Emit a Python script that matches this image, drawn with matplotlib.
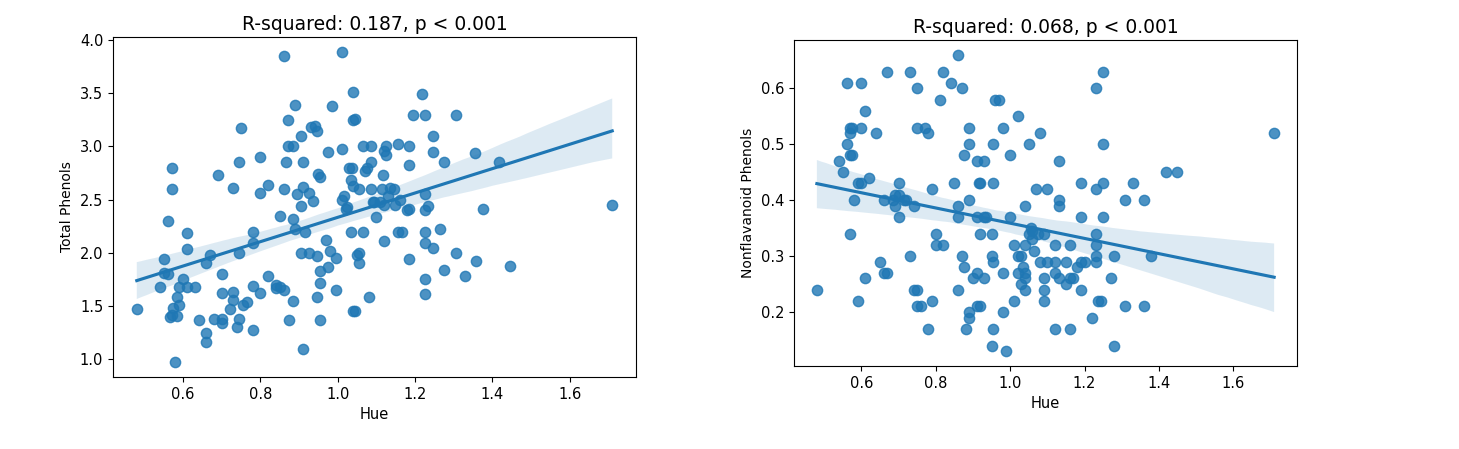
import matplotlib
matplotlib.use("Agg")
import matplotlib.pyplot as plt
import seaborn as sns

# Hue vs Total Phenols (left panel)
hue_tp = [0.48, 0.54, 0.55, 0.56, 0.57, 0.57, 0.55, 0.56, 0.58, 0.565,
          0.57, 0.585, 0.575, 0.60, 0.59, 0.585, 0.59, 0.61, 0.61, 0.61,
          0.63, 0.64, 0.66, 0.66, 0.67, 0.66, 0.69, 0.68, 0.70, 0.70,
          0.70, 0.70, 0.72, 0.73, 0.73, 0.73, 0.74, 0.745, 0.75, 0.745,
          0.745, 0.755, 0.765, 0.78, 0.78, 0.78, 0.78, 0.80, 0.80, 0.80,
          0.82, 0.82, 0.84, 0.84, 0.85, 0.86, 0.85, 0.86, 0.86, 0.87,
          0.865, 0.87, 0.875, 0.885, 0.89, 0.885, 0.89, 0.885, 0.895, 0.91,
          0.905, 0.905, 0.905, 0.91, 0.91, 0.915, 0.925, 0.925, 0.935, 0.93,
          0.94, 0.945, 0.945, 0.945, 0.95, 0.955, 0.955, 0.955, 0.955, 0.97,
          0.975, 0.975, 0.98, 0.985, 0.995, 0.995, 1.01, 1.01, 1.015, 1.01,
          1.02, 1.025, 1.03, 1.035, 1.035, 1.04, 1.04, 1.045, 1.04, 1.045,
          1.04, 1.037, 1.05, 1.055, 1.055, 1.055, 1.065, 1.065, 1.07, 1.075,
          1.08, 1.085, 1.085, 1.085, 1.09, 1.095, 1.10, 1.11, 1.115, 1.118,
          1.12, 1.12, 1.12, 1.125, 1.125, 1.13, 1.135, 1.145, 1.147, 1.157,
          1.16, 1.157, 1.167, 1.18, 1.185, 1.185, 1.185, 1.185, 1.195, 1.218,
          1.226, 1.226, 1.226, 1.226, 1.226, 1.226, 1.226, 1.233, 1.246, 1.246,
          1.247, 1.265, 1.274, 1.275, 1.307, 1.307, 1.328, 1.356, 1.357, 1.376,
          1.416, 1.445, 1.71]
total_phenols = [1.47, 1.68, 1.94, 2.30, 2.80, 2.60, 1.81, 1.80, 0.98, 1.40,
                 1.42, 1.41, 1.48, 1.75, 1.68, 1.59, 1.51, 2.19, 2.04, 1.68,
                 1.68, 1.37, 1.25, 1.16, 1.98, 1.90, 2.73, 1.38, 1.38, 1.34,
                 1.62, 1.80, 1.47, 2.61, 1.63, 1.56, 1.30, 1.38, 3.17, 2.85,
                 2.00, 1.51, 1.54, 1.28, 1.69, 2.20, 2.09, 2.90, 2.56, 1.62,
                 1.78, 2.64, 1.67, 1.70, 1.68, 2.60, 2.35, 3.85, 1.65, 3.25,
                 2.85, 3.00, 1.37, 3.00, 3.39, 2.32, 2.22, 1.55, 2.55, 1.10,
                 3.10, 2.44, 2.00, 2.85, 2.62, 2.20, 2.00, 2.56, 2.49, 3.18,
                 3.19, 3.14, 1.97, 1.59, 2.74, 2.71, 1.72, 1.83, 1.37, 2.12,
                 2.95, 1.87, 2.02, 3.38, 1.95, 1.65, 3.88, 2.97, 2.53, 2.50,
                 2.41, 2.43, 2.80, 2.20, 2.68, 3.51, 1.45, 1.45, 3.25, 3.26,
                 2.63, 2.80, 1.98, 2.00, 1.90, 2.60, 3.00, 2.20, 2.77, 2.80,
                 1.59, 3.00, 2.85, 2.60, 2.48, 2.48, 2.34, 2.48, 2.60, 2.73,
                 2.11, 2.45, 2.96, 3.00, 2.92, 2.53, 2.61, 2.60, 2.45, 3.02,
                 2.50, 2.20, 2.20, 2.40, 2.41, 3.00, 2.82, 1.94, 3.29, 3.49,
                 3.29, 2.55, 2.40, 2.20, 2.09, 1.75, 1.61, 2.44, 2.95, 3.10,
                 2.05, 2.22, 2.85, 1.84, 3.29, 2.00, 1.78, 2.94, 1.92, 2.41,
                 2.85, 1.88, 2.45]

# Hue vs Nonflavanoid Phenols (right panel)
hue_nf = [0.48, 0.54, 0.55, 0.56, 0.56, 0.57, 0.575, 0.57, 0.575, 0.57,
          0.58, 0.57, 0.59, 0.60, 0.60, 0.60, 0.61, 0.61, 0.59, 0.62,
          0.64, 0.65, 0.66, 0.66, 0.67, 0.67, 0.686, 0.69, 0.69, 0.70,
          0.70, 0.70, 0.715, 0.72, 0.74, 0.73, 0.73, 0.75, 0.75, 0.77,
          0.78, 0.74, 0.75, 0.75, 0.76, 0.79, 0.79, 0.78, 0.80, 0.80,
          0.82, 0.81, 0.82, 0.84, 0.86, 0.85, 0.86, 0.86, 0.86, 0.87,
          0.87, 0.876, 0.88, 0.876, 0.89, 0.89, 0.89, 0.89, 0.89, 0.90,
          0.91, 0.91, 0.91, 0.91, 0.92, 0.915, 0.92, 0.93, 0.93, 0.92,
          0.93, 0.935, 0.95, 0.95, 0.955, 0.95, 0.955, 0.955, 0.955, 0.96,
          0.97, 0.98, 0.98, 0.98, 0.99, 1.00, 1.00, 1.01, 1.01, 1.02,
          1.02, 1.03, 1.02, 1.03, 1.035, 1.04, 1.04, 1.04, 1.04, 1.04,
          1.05, 1.05, 1.055, 1.06, 1.06, 1.065, 1.07, 1.075, 1.08, 1.08,
          1.09, 1.09, 1.09, 1.09, 1.10, 1.10, 1.12, 1.12, 1.12, 1.12,
          1.13, 1.13, 1.13, 1.13, 1.15, 1.15, 1.16, 1.16, 1.16, 1.17,
          1.18, 1.19, 1.20, 1.19, 1.19, 1.19, 1.22, 1.23, 1.23, 1.23,
          1.23, 1.23, 1.23, 1.235, 1.245, 1.25, 1.25, 1.25, 1.25, 1.27,
          1.28, 1.28, 1.31, 1.31, 1.33, 1.36, 1.36, 1.38, 1.42, 1.45,
          1.71]
nonflav_phenols = [0.24, 0.47, 0.45, 0.61, 0.50, 0.53, 0.53, 0.52, 0.48, 0.48,
                   0.40, 0.34, 0.43, 0.43, 0.61, 0.53, 0.56, 0.26, 0.22, 0.44,
                   0.52, 0.29, 0.40, 0.27, 0.27, 0.63, 0.40, 0.41, 0.39, 0.43,
                   0.37, 0.41, 0.40, 0.40, 0.39, 0.63, 0.30, 0.60, 0.53, 0.53,
                   0.52, 0.24, 0.24, 0.21, 0.21, 0.42, 0.22, 0.17, 0.34, 0.32,
                   0.32, 0.58, 0.63, 0.61, 0.66, 0.43, 0.39, 0.37, 0.24, 0.60,
                   0.30, 0.28, 0.17, 0.48, 0.53, 0.50, 0.40, 0.20, 0.19, 0.26,
                   0.47, 0.37, 0.27, 0.21, 0.21, 0.43, 0.43, 0.47, 0.37, 0.34,
                   0.26, 0.37, 0.34, 0.30, 0.29, 0.14, 0.17, 0.43, 0.50, 0.58,
                   0.58, 0.53, 0.27, 0.20, 0.13, 0.48, 0.37, 0.32, 0.22, 0.55,
                   0.30, 0.30, 0.27, 0.25, 0.28, 0.32, 0.39, 0.27, 0.26, 0.24,
                   0.50, 0.34, 0.35, 0.345, 0.33, 0.31, 0.42, 0.34, 0.52, 0.29,
                   0.26, 0.24, 0.22, 0.34, 0.29, 0.42, 0.29, 0.27, 0.32, 0.17,
                   0.47, 0.40, 0.39, 0.26, 0.29, 0.25, 0.32, 0.26, 0.17, 0.26,
                   0.28, 0.29, 0.29, 0.43, 0.37, 0.24, 0.19, 0.60, 0.42, 0.34,
                   0.32, 0.30, 0.29, 0.22, 0.22, 0.63, 0.50, 0.43, 0.37, 0.26,
                   0.30, 0.14, 0.40, 0.21, 0.43, 0.40, 0.21, 0.30, 0.45, 0.45,
                   0.52]

titles = ["R-squared: 0.187, p < 0.001", "R-squared: 0.068, p < 0.001"]
ylabels = ["Total Phenols", "Nonflavanoid Phenols"]

fig = plt.figure(figsize=(14.59, 4.49), dpi=100)
ax1 = fig.add_axes([113 / 1459, 1 - 377 / 449, 523 / 1459, 340 / 449])
ax2 = fig.add_axes([794 / 1459, 1 - 366 / 449, 503 / 1459, 326 / 449])

panels = [(ax1, hue_tp, total_phenols), (ax2, hue_nf, nonflav_phenols)]
for i, (ax, x, y) in enumerate(panels):
    sns.regplot(x=x, y=y, ax=ax, seed=0, scatter_kws={"s": 55})
    ax.set_title(titles[i], fontsize=13.5, pad=5)
    ax.set_xlabel("Hue", fontsize=10.5)
    ax.set_ylabel(ylabels[i], fontsize=10)
    ax.tick_params(labelsize=10.5)

fig.savefig("out.png", dpi=100)
